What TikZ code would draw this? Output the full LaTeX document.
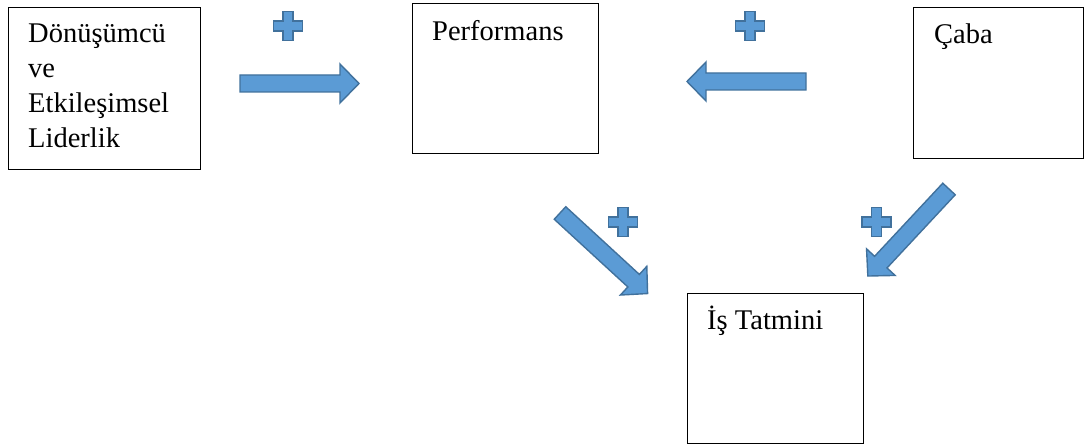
\documentclass[tikz,border=0pt]{standalone}
\usepackage{fontspec}
\setmainfont{Liberation Serif}
\usetikzlibrary{calc}
\definecolor{afill}{RGB}{91,155,213}
\definecolor{aline}{RGB}{65,113,156}
\tikzset{
  box/.style={draw=black, line width=1.1pt, fill=white, inner sep=0pt, anchor=north west},
  lbl/.style={inner sep=0pt, anchor=base west, align=left, font=\fontsize{28.5}{35}\selectfont},
  blk/.style={draw=aline, fill=afill, line width=1.4pt, line join=miter},
}
\newcommand{\blockarrow}[4]{%
  \coordinate (#1) at (#2,#3);
  \draw[blk, shift={(#1)}, rotate=#4]
    (0,-8.5) -- (100,-8.5) -- (100,-19.5) -- (119,0) -- (100,19.5) -- (100,8.5) -- (0,8.5) -- cycle;}
\newcommand{\plussign}[3]{%
  \coordinate (#1) at (#2,#3);
  \draw[blk, shift={(#1)}]
    (-5,-14.5) -- (5,-14.5) -- (5,-5) -- (14.5,-5) -- (14.5,5) -- (5,5) -- (5,14.5)
    -- (-5,14.5) -- (-5,5) -- (-14.5,5) -- (-14.5,-5) -- (-5,-5) -- cycle;}
\begin{document}
\begin{tikzpicture}[x=1pt,y=1pt]
\useasboundingbox (0,0) rectangle (1084,-446);
% boxes
\node[box, minimum width=192pt, minimum height=162pt] (lider) at (8,-7) {};
\node[box, minimum width=186pt, minimum height=150pt] (perf) at (412,-3) {};
\node[box, minimum width=170pt, minimum height=151pt] (caba) at (913,-7) {};
\node[box, minimum width=176pt, minimum height=150pt] (tatmin) at (687,-293) {};
% labels
\node[lbl] (liderT) at (28,-148) {Dönüşümcü\\ve\\Etkileşimsel\\Liderlik};
\node[lbl] (perfT) at (432,-41) {Performans};
\node[lbl] (cabaT) at (934,-44) {Çaba};
\node[lbl] (tatminT) at (707,-330) {İş Tatmini};
% block arrows
\blockarrow{a1}{240}{-83.5}{0}
\blockarrow{a2}{806}{-81.5}{180}
\blockarrow{a3}{560}{-213}{-42.6}
\blockarrow{a4}{949}{-189}{-133}
% plus signs
\plussign{p1}{288}{-26}
\plussign{p2}{750}{-26}
\plussign{p3}{623}{-222}
\plussign{p4}{876.5}{-222}
\end{tikzpicture}
\end{document}
